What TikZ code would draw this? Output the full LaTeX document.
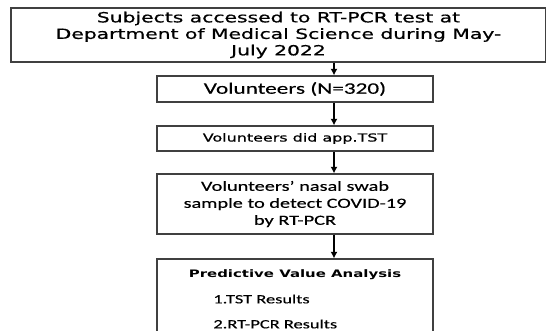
\documentclass[tikz,border=0pt]{standalone}
\usepackage{fontspec}
\newfontfamily\vfont[FakeStretch=1.45]{DejaVu Sans}
\newfontfamily\mfont[FakeStretch=1.45, FakeBold=0.7]{DejaVu Sans}
\newfontfamily\cfont[FakeStretch=1.45, FakeBold=0.3]{Carlito}
\usetikzlibrary{arrows.meta}

\begin{document}
\begin{tikzpicture}[>={Latex[length=6.5pt,width=7pt]}, thick, x=1pt, y=-1pt,
    box/.style={draw=black!75, line width=1.2pt, inner sep=0pt, align=center},
    flow/.style={->, line width=1.5pt, black}]
    % --- Definitions ---
    \def\midX{295}   % centre of the column of boxes
    \def\boxW{276}
    \def\arrX{334}   % the arrows run right of the centre

    % --- Frame ---
    \clip (0,0) rectangle (546,331);
    \fill[white] (0,0) rectangle (546,331);

    % --- Boxes ---
    \node[box, minimum width=535, minimum height=54,
          font=\mfont\fontsize{14}{16.5}\selectfont] (subj) at (278.5,35)
        {Subjects accessed to RT-PCR test at\\Department of Medical Science during May-\\July 2022};
    \node[box, minimum width=\boxW, minimum height=26,
          font=\cfont\fontsize{16}{19}\selectfont] (vol) at (\midX,89) {Volunteers (N=320)};
    \node[box, minimum width=\boxW, minimum height=25,
          font=\mfont\fontsize{11}{13}\selectfont] (tst) at (\midX,138.5) {Volunteers did app.TST};
    \node[box, minimum width=\boxW, minimum height=60,
          font=\cfont\fontsize{14}{17}\selectfont] (swab) at (\midX,204)
        {Volunteers’ nasal swab\\sample to detect COVID-19\\by RT-PCR};
    \node[box, minimum width=\boxW, minimum height=86] (pva) at (\midX,302) {};

    % --- Analysis texts ---
    \node[font=\vfont\bfseries\fontsize{10.3}{12}\selectfont] (head) at (\midX,275) {Predictive Value Analysis};
    \node[anchor=west, inner sep=0pt, font=\cfont\fontsize{12.7}{15}\selectfont] (res1) at (213,299) {1.TST Results};
    \node[anchor=west, inner sep=0pt, font=\cfont\fontsize{12.7}{15}\selectfont] (res2) at (213,324) {2.RT-PCR Results};

    % --- Arrows ---
    \coordinate (ax) at (\arrX,0);
    \draw[flow] (subj.south -| ax) -- (vol.north -| ax);
    \draw[flow] (vol.south -| ax) -- (tst.north -| ax);
    \draw[flow] (tst.south -| ax) -- (swab.north -| ax);
    \draw[flow] (swab.south -| ax) -- (pva.north -| ax);

\end{tikzpicture}
\end{document}
